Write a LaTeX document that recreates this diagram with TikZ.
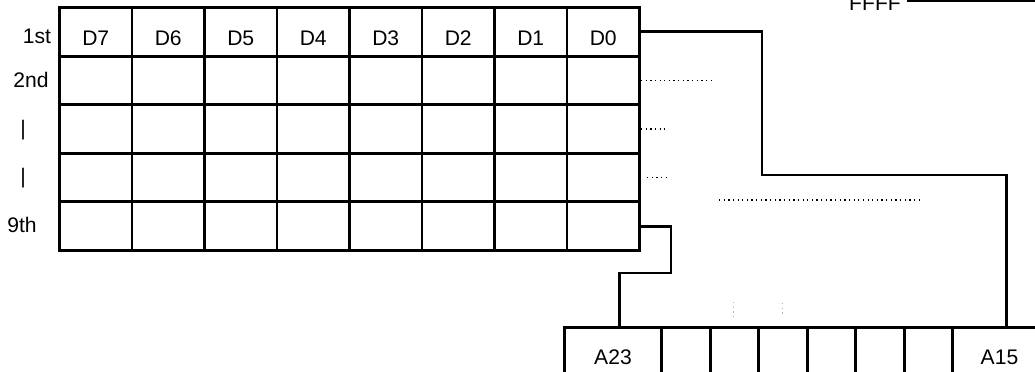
\documentclass[tikz,border=0pt]{standalone}
\usepackage{fontspec}
\setmainfont{Liberation Sans}
\usetikzlibrary{positioning, calc}

\begin{document}
\begin{tikzpicture}[x=0.025cm, y=-0.025cm, line width=2.1pt,
    font=\fontsize{15}{17}\selectfont,
    cell/.style={draw, anchor=north west, minimum width=1.8125cm, minimum height=1.215cm, inner sep=0pt, text height=19pt, text depth=0pt},
    reg/.style={draw, anchor=north west, minimum height=1.48cm, inner sep=0pt},
    dots/.style={line width=0.9pt, dash pattern=on 0.9pt off 2.4pt}]
    \clip (0,0) rectangle (1035,371);

    \foreach \c/\bit in {0/D7,1/D6,2/D5,3/D4,4/D3,5/D2,6/D1,7/D0}
        \node[cell] (d0\c) at (58+72.5*\c, 6) {\bit};
    \foreach \r in {1,...,4}
        \foreach \c in {0,...,7}
            \node[cell] (d\r\c) at (58+72.5*\c, 6+48.6*\r) {};

    \node (first) at (37,36) {1st};
    \node (second) at (31,80) {2nd};
    \node (third) at (23,130) {|};
    \node (fourth) at (23,178) {|};
    \node (ninth) at (22,225) {9th};

    \node[reg, minimum width=2.425cm] (a23) at (563,326) {A23};
    \foreach \i in {1,...,6}
        \node[reg, minimum width=1.215cm] (slot\i) at (660+48.5*\i-48.5, 326) {};
    \node[reg, minimum width=2.35cm] (a15) at (951,326) {A15};

    \node[anchor=base] (ffff) at (875,10) {FFFF};
    \coordinate (top edge) at (1040,1);
    \draw (ffff.east |- top edge) -- (top edge);

    \coordinate (upper bend) at (762,175);
    \draw (d07.east) -| (upper bend) -| ($(a15.north)+(7,0)$);
    \coordinate (lower bend) at (671,273);
    \draw (d47.east) -| (lower bend) -| ($(a23.north)+(6.5,0)$);

    \draw[dots] (d17.east) -- ++(70,0);
    \draw[dots] (d27.east) -- ++(26,0);
    \draw[dots] ($(d37.east)+(6,0)$) -- ++(22,0);
    \coordinate (gap left) at (719,200);
    \coordinate (gap right) at (923,200);
    \draw[dots] (gap left) -- (gap right);
    \draw[dots, gray!60, line width=0.6pt] (733,302) -- (733,318);
    \draw[dots, gray!60, line width=0.6pt] (782,303) -- (782,314);
\end{tikzpicture}
\end{document}
